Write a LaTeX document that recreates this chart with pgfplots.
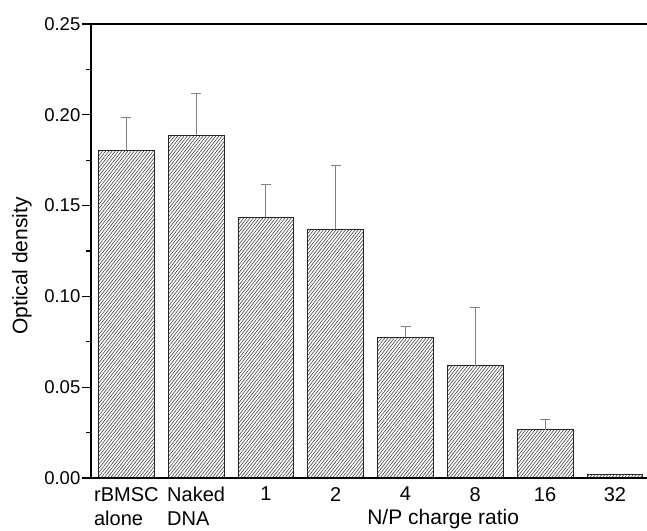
\documentclass[border=0pt]{standalone}
\usepackage{pgfplots}
\pgfplotsset{compat=1.18}
\usepackage{pgfplotstable}
\usetikzlibrary{patterns.meta}
\usepackage{fontspec}
\setmainfont{Liberation Sans}
\pgfplotstableread{
x y e
0 0.1806 0.0181
1 0.1887 0.0233
2 0.1437 0.0181
3 0.1369 0.0352
4 0.0776 0.0057
5 0.0618 0.0321
6 0.0266 0.0057
}\bars
\pgfplotstableread{
x y
7 0.0020
}\lastbar
\begin{document}
\begin{tikzpicture}[x=1pt,y=1pt]
\path[use as bounding box] (-91,-52) rectangle (556,478);
\begin{axis}[
  at={(0,0)}, anchor=south west,
  width=556pt, height=454pt, scale only axis,
  xmin=-0.506, xmax=7.46, ymin=0, ymax=0.25,
  axis line style={draw=none},
  clip=false,
  ytick={0,0.05,0.10,0.15,0.20,0.25},
  yticklabels={0.00,0.05,0.10,0.15,0.20,0.25},
  minor ytick={0.025,0.075,0.125,0.175,0.225},
  ytick pos=left,
  tick align=outside,
  major tick length=9pt, minor tick length=5pt,
  y tick style={black, line width=1.2pt},
  minor y tick style={black, line width=1.2pt},
  xtick={0,1,2,3,4,5,6,7},
  x tick style={draw=none},
  xticklabels={{rBMSC\\alone},{Naked\\DNA},1,2,4,8,16,32},
  xticklabel style={align=left, font=\fontsize{20}{24}\selectfont, anchor=north, inner sep=0pt, yshift=0pt},
  yticklabel style={font=\fontsize{18.5}{22}\selectfont, inner sep=1.5pt},
  ylabel={Optical density},
  ylabel style={at={([xshift=-69pt]rel axis cs:0,0.467)}, anchor=center, font=\fontsize{21}{25}\selectfont},
  xlabel={N/P charge ratio},
  xlabel style={at={([yshift=-46pt]axis cs:4.54,0)}, anchor=base, font=\fontsize{21}{25}\selectfont},
]
\addplot[ybar, bar width=0.8, bar shift=0pt, draw=black!85, line width=0.9pt,
  pattern={Lines[angle=52,distance=2.5pt,line width=0.6pt]}, pattern color=black!75,
  error bars/.cd, y dir=plus, y explicit,
  error bar style={gray, line width=1pt},
  error mark options={rotate=90, gray, mark size=5pt, line width=1pt}]
  table[x=x, y=y, y error=e] {\bars};
\addplot[ybar, bar width=0.8, bar shift=0pt, draw=black!85, line width=0.9pt,
  pattern={Lines[angle=52,distance=2.5pt,line width=0.6pt]}, pattern color=black!75]
  table[x=x, y=y] {\lastbar};
\draw[line width=1.3pt] (rel axis cs:0,1) -- (rel axis cs:0,0) -- (rel axis cs:1,0);
\draw[line width=1.6pt] (rel axis cs:0,1) -- (rel axis cs:1,1);
\end{axis}
\end{tikzpicture}
\end{document}
